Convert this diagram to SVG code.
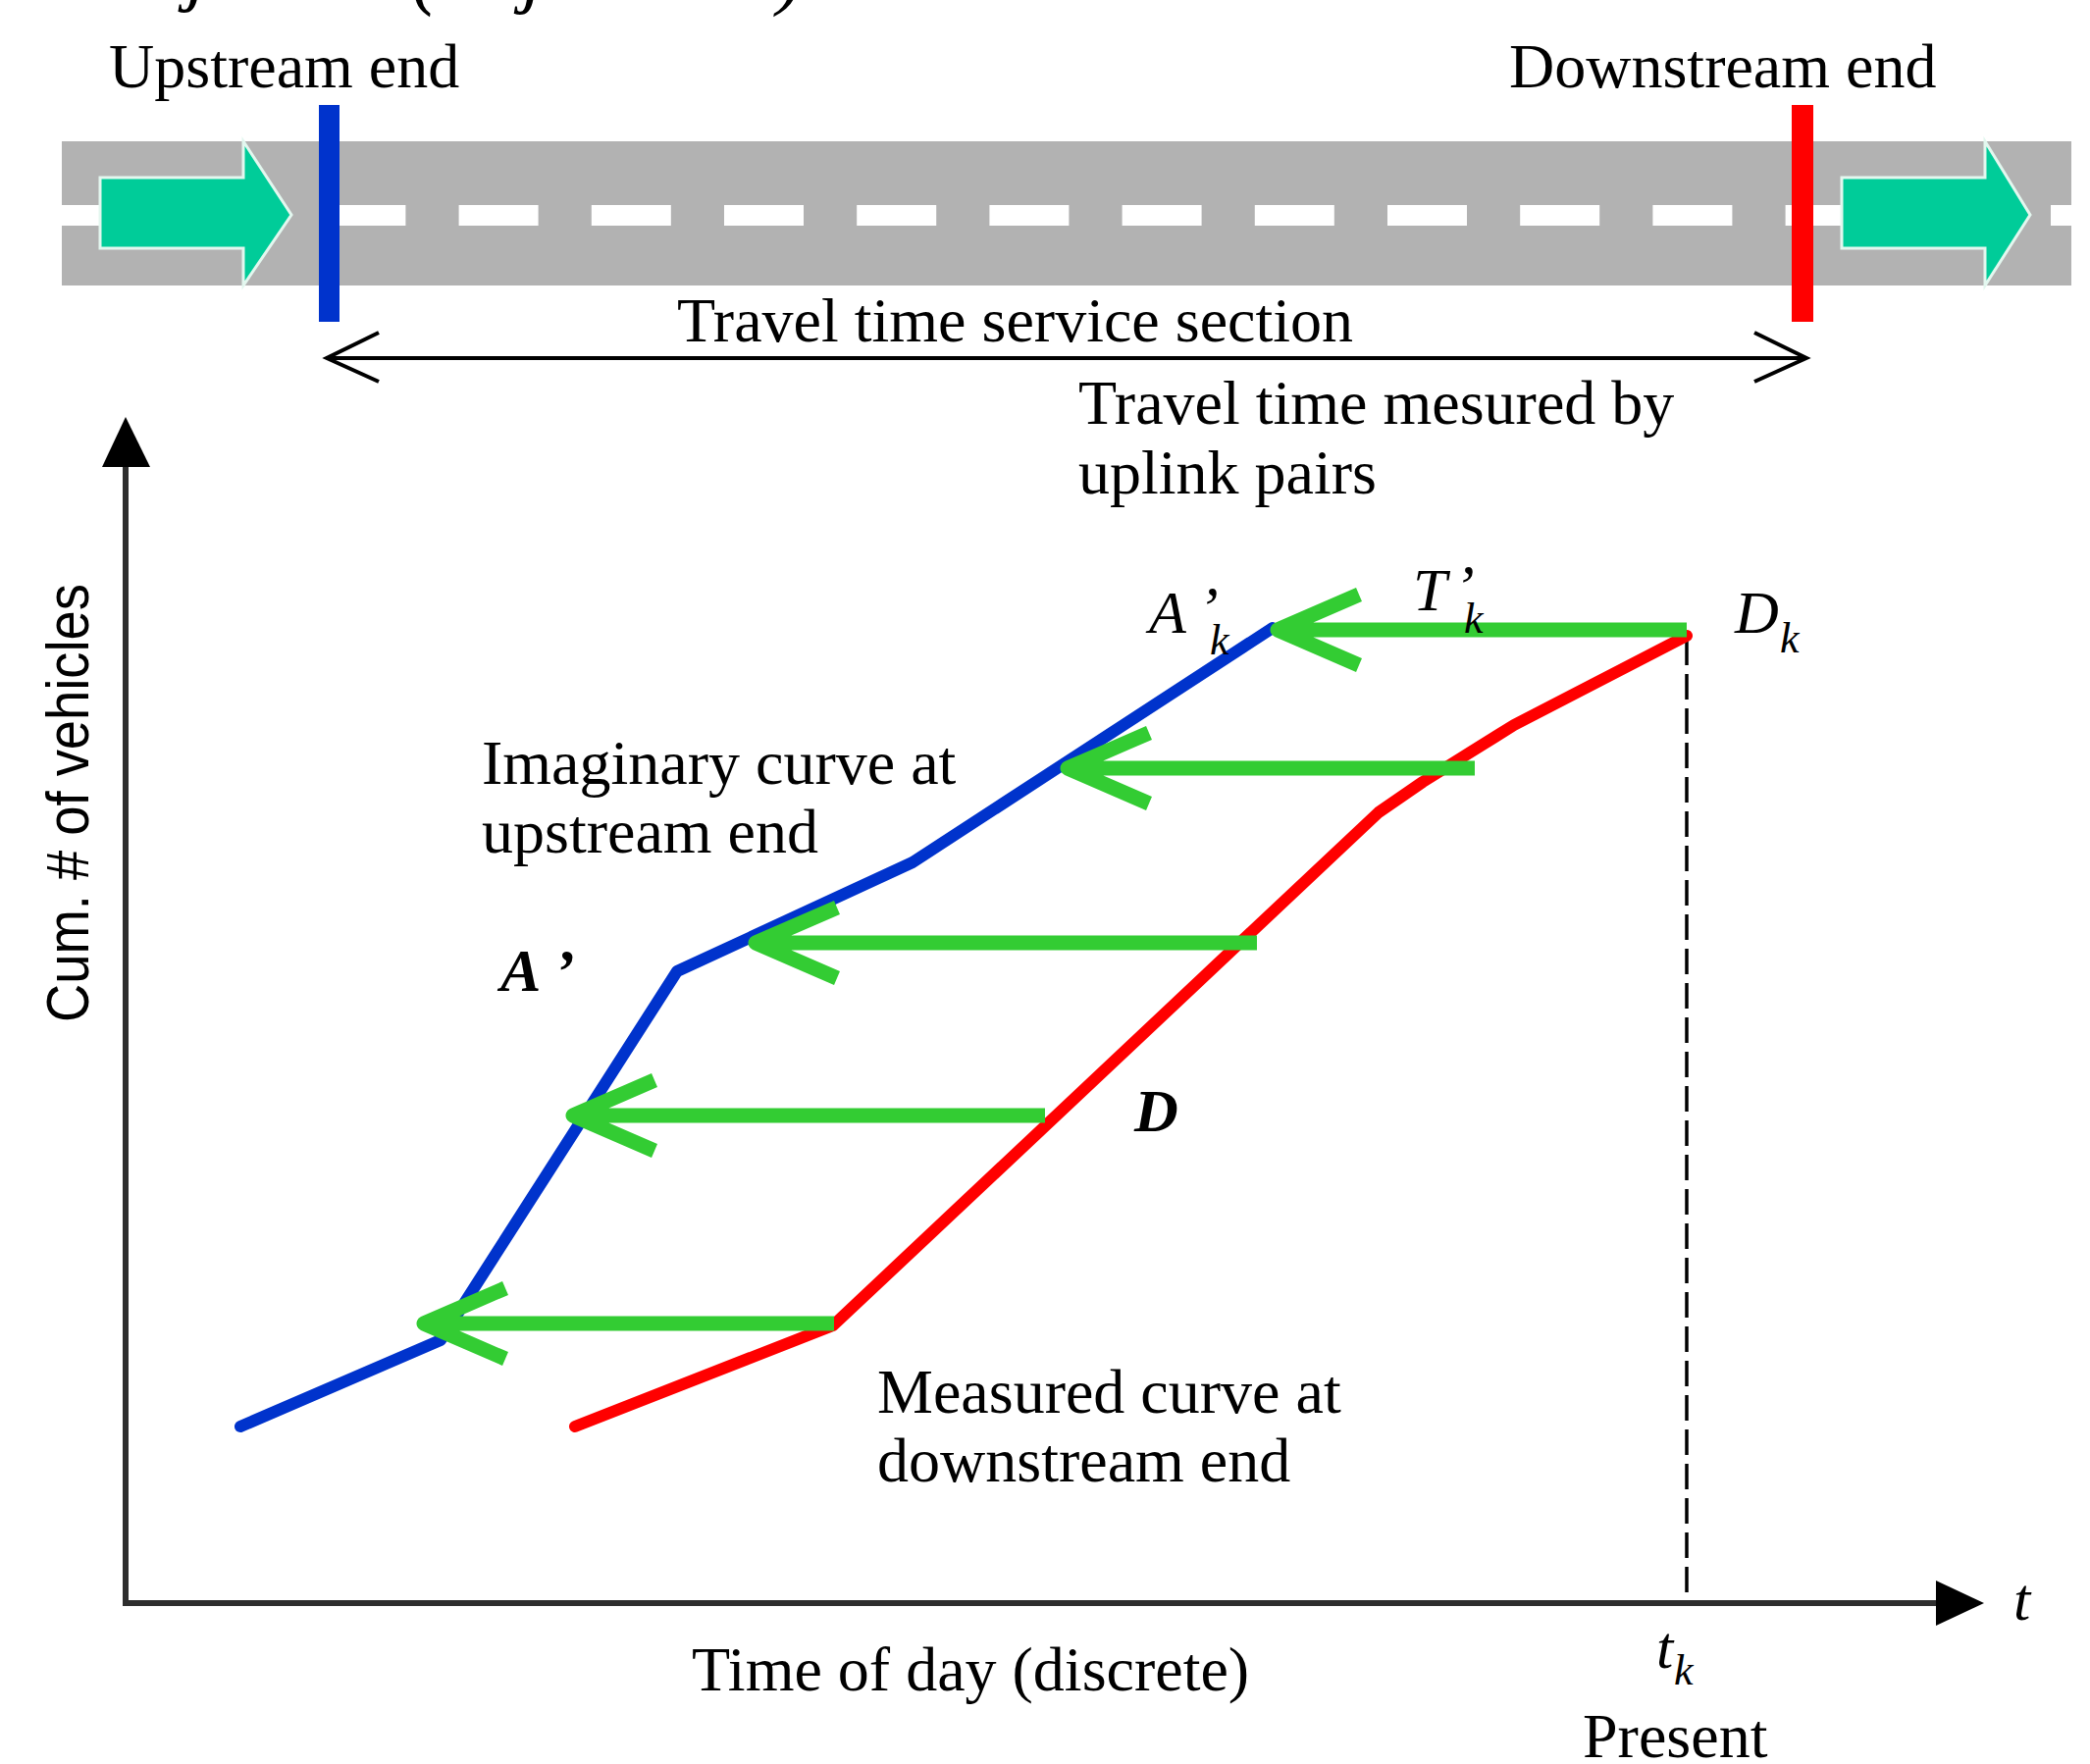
<svg xmlns="http://www.w3.org/2000/svg" width="2130" height="1798" viewBox="0 0 2130 1798">
<style>
  text { font-family: "Liberation Serif", "Times New Roman", serif; fill: #000; }
  .t { font-size: 64px; }
  .it { font-style: italic; font-size: 62px; }
  .sub { font-style: italic; font-size: 44px; }
  .bi { font-style: italic; font-weight: bold; font-size: 62px; }
  .flow { fill: #00cc99; stroke: #e3f7ef; stroke-width: 3; }
  .grn { fill: none; stroke: #33cc33; stroke-width: 15; stroke-linejoin: round; }
  .blue { fill: none; stroke: #0033cc; stroke-width: 12; stroke-linejoin: round; stroke-linecap: round; }
  .red { fill: none; stroke: #ff0000; stroke-width: 12; stroke-linejoin: round; stroke-linecap: round; }
  .axis { stroke: #2e2e2e; stroke-width: 6; fill: none; }
  .dbl { stroke: #000; stroke-width: 4; fill: none; }
</style>

<!-- cropped formula fragment at top edge -->
<g id="formula-fragment">
  <text x="190" y="-4" style="font-style:italic;font-size:80px">j</text>
  <text x="420" y="0" style="font-style:italic;font-size:80px">(</text>
  <text x="510" y="-2" style="font-style:italic;font-size:80px">ij</text>
  <text x="792" y="0" style="font-style:italic;font-size:80px">)</text>
</g>

<!-- road -->
<g id="road">
  <rect x="63" y="144" width="2048" height="147" fill="#b2b2b2"/>
  <line x1="62" y1="219.5" x2="2111" y2="219.5" stroke="#ffffff" stroke-width="21" stroke-dasharray="81 54.2"/>
  <polygon class="flow" points="102,181 248,181 248,144 297,219 248,291 248,253 102,253"/>
  <polygon class="flow" points="1877,181 2023,181 2023,144 2069,219 2023,291 2023,253 1877,253"/>
</g>

<g id="upstream-marker">
  <rect x="325" y="107" width="21" height="221" fill="#0033cc"/>
  <text class="t" x="111" y="89">Upstream end</text>
</g>
<g id="downstream-marker">
  <rect x="1826" y="107" width="22" height="221" fill="#ff0000"/>
  <text class="t" x="1538" y="89">Downstream end</text>
</g>

<g id="service-section">
  <text class="t" x="690" y="348">Travel time service section</text>
  <line class="dbl" x1="333" y1="365" x2="1841" y2="365"/>
  <polyline class="dbl" points="386,339 333,365 386,389"/>
  <polyline class="dbl" points="1788,339 1841,365 1788,389"/>
</g>

<g id="measured-label">
  <text class="t" x="1099" y="432">Travel time mesured by</text>
  <text class="t" x="1099" y="503">uplink pairs</text>
</g>

<!-- axes -->
<g id="axes">
  <line class="axis" x1="128" y1="1634" x2="128" y2="470"/>
  <polygon points="128,425 104,476 153,476" fill="#000"/>
  <line class="axis" x1="125" y1="1634" x2="1980" y2="1634"/>
  <polygon points="2022,1634 1973,1611 1973,1657" fill="#000"/>
  <text transform="translate(90,1042) rotate(-90)" style="font-family:'Liberation Sans',Arial,sans-serif;font-size:62px" textLength="447" lengthAdjust="spacingAndGlyphs">Cum. # of vehicles</text>
  <text class="t" x="705" y="1723">Time of day (discrete)</text>
  <text class="it" x="2052" y="1651">t</text>
  <text class="it" x="1688" y="1700">t</text>
  <text class="sub" x="1706" y="1717">k</text>
  <text class="t" x="1613" y="1791">Present</text>
</g>

<!-- connectors: curves, travel-time arrows, present line -->
<g id="connectors">
  <line x1="1719" y1="652" x2="1719" y2="1630" stroke="#000" stroke-width="3.5" stroke-dasharray="26 9"/>
  <polyline id="upstream-curve" class="blue" points="245,1454 449,1366 690,990 930,879 1297,640"/>
  <polyline id="downstream-curve" class="red" points="586,1454 849,1351 1405,828 1450,797 1543,739 1719,648"/>

  <g id="tt-arrows">
    <path class="grn" d="M1719,642 H1302 M1385,606 L1302,642 L1385,678"/>
    <path class="grn" d="M1503,783 H1088 M1171,747 L1088,783 L1171,819"/>
    <path class="grn" d="M1281,961 H770 M853,925 L770,961 L853,997"/>
    <path class="grn" d="M1065,1137 H584 M667,1101 L584,1137 L667,1173"/>
    <path class="grn" d="M850,1349 H432 M515,1313 L432,1349 L515,1385"/>
  </g>
</g>

<!-- curve labels -->
<g id="label-imaginary">
  <text class="t" x="491" y="799">Imaginary curve at</text>
  <text class="t" x="491" y="869">upstream end</text>
</g>
<g id="label-measured">
  <text class="t" x="894" y="1440">Measured curve at</text>
  <text class="t" x="894" y="1510">downstream end</text>
</g>
<g id="label-Aprime">
  <text class="bi" x="510" y="1010">A</text>
  <text class="bi" x="565" y="1010">’</text>
</g>
<g id="label-D">
  <text class="bi" x="1156" y="1153">D</text>
</g>
<g id="label-Akprime">
  <text class="it" x="1171" y="645">A</text>
  <text class="it" x="1221" y="640">’</text>
  <text class="sub" x="1233" y="667">k</text>
</g>
<g id="label-Tk">
  <text class="it" x="1440" y="622">T</text>
  <text class="it" x="1482" y="618">’</text>
  <text class="sub" x="1492" y="645">k</text>
</g>
<g id="label-Dk">
  <text class="it" x="1768" y="645">D</text>
  <text class="sub" x="1814" y="665">k</text>
</g>
</svg>
